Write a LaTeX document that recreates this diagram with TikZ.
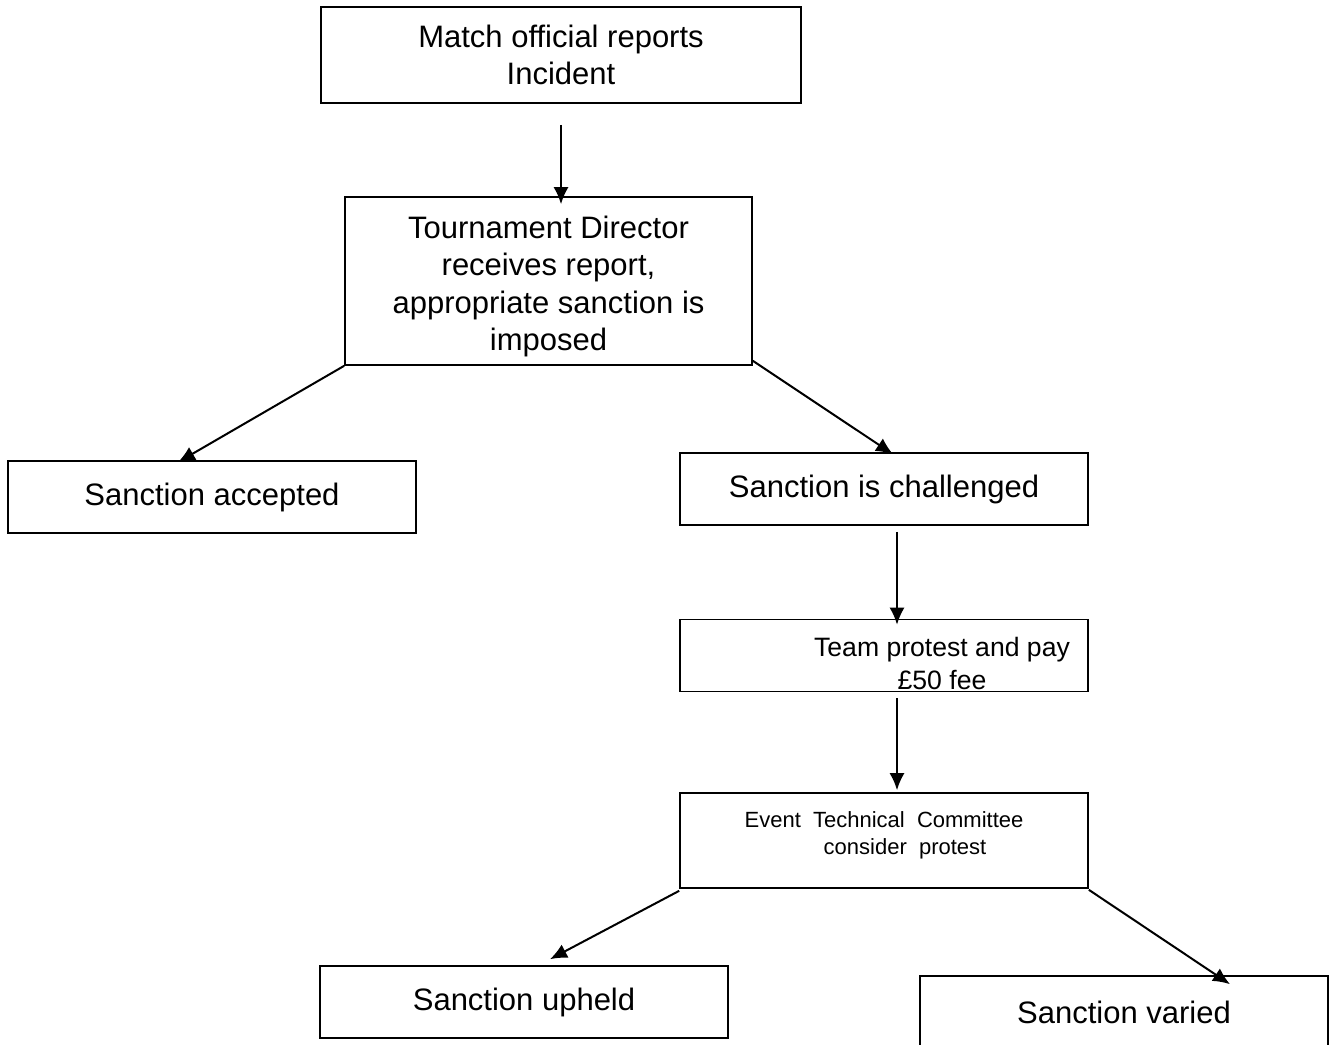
\documentclass[tikz,border=0pt]{standalone}
\usepackage{fontspec}
\setmainfont{Liberation Sans}
\usetikzlibrary{arrows.meta}
\newcommand{\boxtext}[2]{\raisebox{#1}[0pt][0pt]{\begin{tabular}{@{}c@{}}#2\end{tabular}}}
\tikzset{
  box/.style={draw, line width=0.8pt, minimum width=204pt, minimum height=36pt,
    align=center, inner sep=0pt, font=\fontsize{15.5}{18.75}\selectfont},
  arr/.style={draw, line width=1pt, -{Latex[length=8.5pt,width=7.5pt]}}
}
\begin{document}
\begin{tikzpicture}[x=0.5pt, y=-0.5pt]
    \useasboundingbox (0,0) rectangle (1336,1044);
    \clip (0,0) rectangle (1336,1044);
    \node[box, minimum width=240pt, minimum height=48pt] (rep) at (561,55) {Match official reports\\Incident};
    \node[box, minimum width=203.5pt, minimum height=84pt] (dir) at (548.5,281)
         {\boxtext{-6.5pt}{Tournament Director\\receives report,\\appropriate sanction is\\imposed}};
    \node[box] (acc) at (212,497) {Sanction accepted};
    \node[box] (chal) at (884,489) {Sanction is challenged};
    \node[box, font=\fontsize{13.3}{16.5}\selectfont] (team) at (884,655.5)
         {\boxtext{-9pt}{\hspace*{58pt}Team protest and pay\\\hspace*{58pt}£50 fee}};
    \node[box, minimum height=47.5pt, font=\fontsize{11}{13.5}\selectfont] (etc) at (884,840.5)
         {\boxtext{-0.5pt}{Event\ \ Technical\ \ Committee\\\hspace*{21pt}consider\ \ protest}};
    \node[box] (uph) at (524,1002) {Sanction\ upheld};
    \node[box] (var) at (1124,1012) {Sanction varied};
    % connectors
    \path ([shift={(0,21)}]rep.south) edge[arr] ([shift={(0,8)}]rep.south |- dir.north)
          (dir.south west) edge[arr] ([shift={(-34,2)}]acc.north)
          ([shift={(0,-5)}]dir.south east) edge[arr] ([shift={(9,2)}]chal.north)
          ([shift={(13,6)}]chal.south) edge[arr] ([shift={(13,6)}]team.north)
          ([shift={(13,6)}]team.south) edge[arr] ([shift={(13,-2)}]etc.north)
          ([shift={(0,2)}]etc.south west) edge[arr] ([shift={(26,-6)}]uph.north)
          ([shift={(0,1)}]etc.south east) edge[arr] ([shift={(106,9)}]var.north);
\end{tikzpicture}
\end{document}
